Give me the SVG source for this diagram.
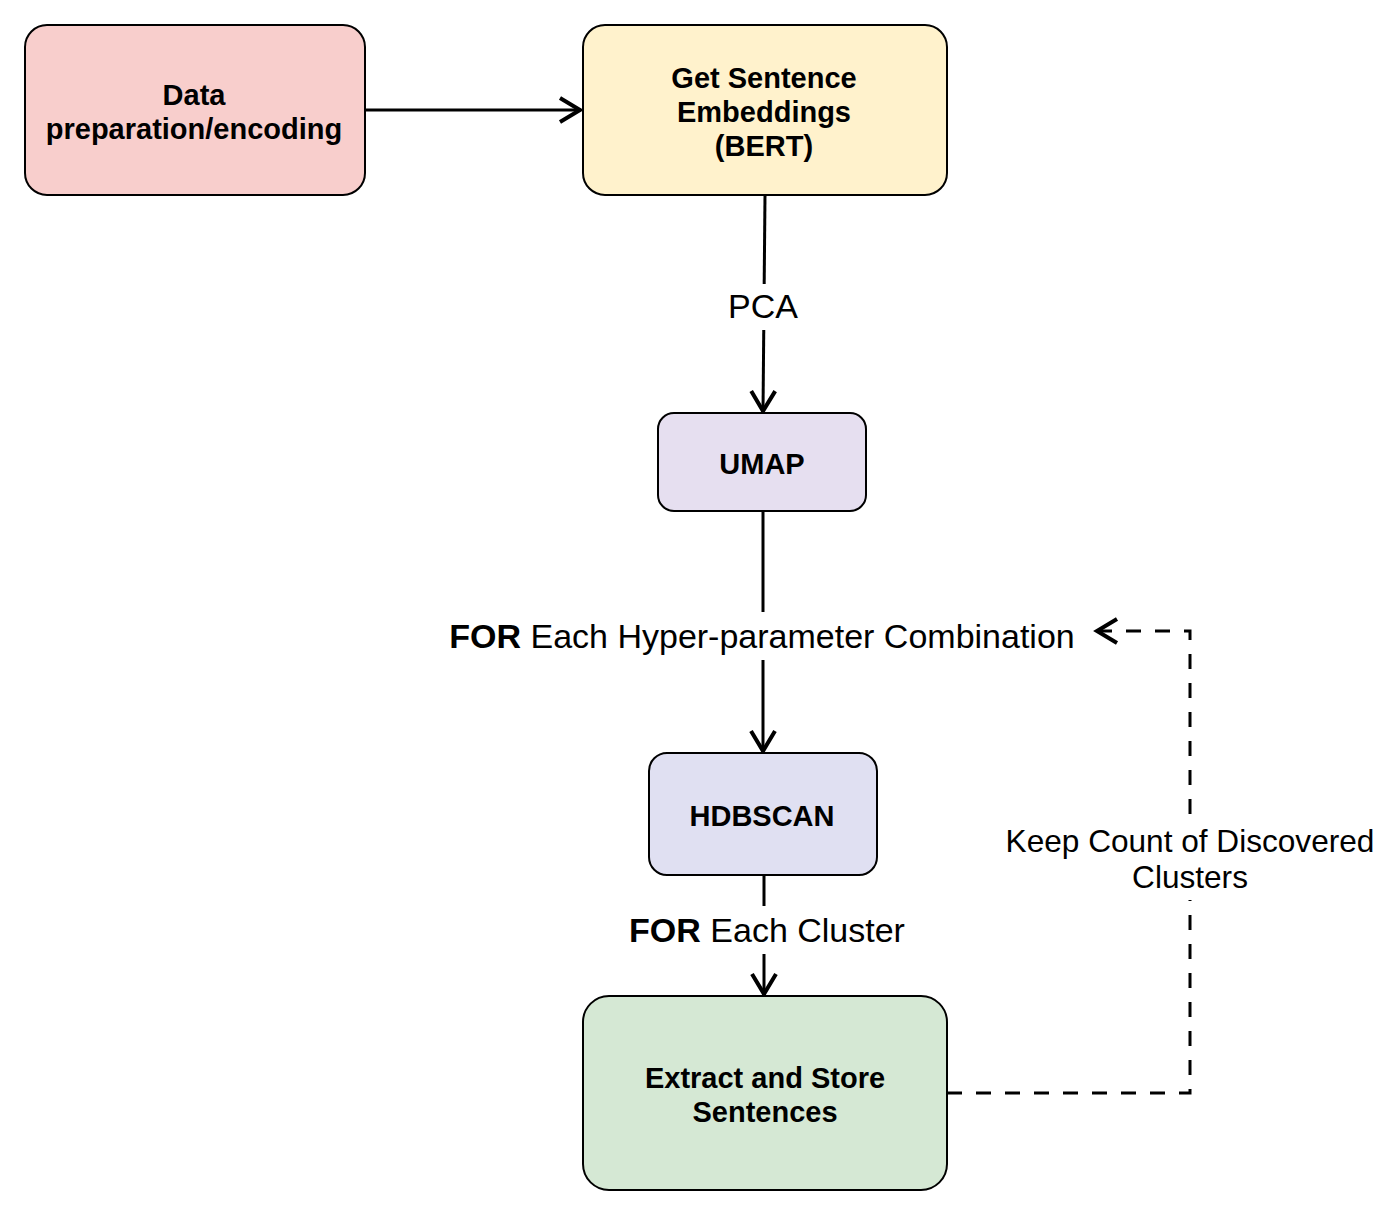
<svg xmlns="http://www.w3.org/2000/svg" width="1400" height="1216" viewBox="0 0 1400 1216">
<style>
.node{stroke:#000;stroke-width:2}
.lbl{font-family:"Liberation Sans",Arial,sans-serif;font-weight:bold;font-size:29px;text-anchor:middle;fill:#000}
.elbl{font-family:"Liberation Sans",Arial,sans-serif;font-size:34px;text-anchor:middle;fill:#000}
.small{font-size:31.6px}
.edge{fill:none;stroke:#000;stroke-width:3}
.dash{stroke-dasharray:15 14}
</style>
<defs>
<marker id="arr2" markerWidth="26" markerHeight="28" refX="23" refY="14" orient="auto" markerUnits="userSpaceOnUse" viewBox="0 0 26 28">
<path d="M2,2 L22,14 L2,26" fill="none" stroke="#000" stroke-width="4"/>
</marker>
</defs>
<rect width="1400" height="1216" fill="#fff"/>
<g id="connectors">
<line class="edge" x1="365" y1="110" x2="581" y2="110" marker-end="url(#arr2)"/>
<line class="edge" x1="765" y1="195" x2="763" y2="412" marker-end="url(#arr2)"/>
<line class="edge" x1="763" y1="511" x2="763" y2="752" marker-end="url(#arr2)"/>
<line class="edge" x1="764" y1="875" x2="764" y2="995" marker-end="url(#arr2)"/>
<polyline class="edge dash" points="947,1093 1190,1093 1190,631 1096,631" marker-end="url(#arr2)"/>
<rect x="712" y="284" width="102" height="46" fill="#fff"/>
<text class="elbl" x="763" y="318">PCA</text>
<rect x="444" y="612" width="638" height="48" fill="#fff"/>
<text class="elbl" x="762" y="648"><tspan font-weight="bold">FOR</tspan> Each Hyper-parameter Combination</text>
<rect x="622" y="906" width="292" height="48" fill="#fff"/>
<text class="elbl" x="767" y="942"><tspan font-weight="bold">FOR</tspan> Each Cluster</text>
<rect x="1000" y="816" width="380" height="84" fill="#fff"/>
<text class="elbl small" x="1190" y="852">Keep Count of Discovered</text>
<text class="elbl small" x="1190" y="888">Clusters</text>
</g>
<g id="data">
<rect class="node" x="25" y="25" width="340" height="170" rx="22" fill="#f8cecc"/>
<text class="lbl" x="194" y="105">Data</text>
<text class="lbl" x="194" y="139">preparation/encoding</text>
</g>
<g id="embeddings">
<rect class="node" x="583" y="25" width="364" height="170" rx="22" fill="#fff2cc"/>
<text class="lbl" x="764" y="88">Get Sentence</text>
<text class="lbl" x="764" y="122">Embeddings</text>
<text class="lbl" x="764" y="156">(BERT)</text>
</g>
<g id="umap">
<rect class="node" x="658" y="413" width="208" height="98" rx="16" fill="#e6dff0"/>
<text class="lbl" x="762" y="474">UMAP</text>
</g>
<g id="hdbscan">
<rect class="node" x="649" y="753" width="228" height="122" rx="18" fill="#e0e0f2"/>
<text class="lbl" x="762" y="826">HDBSCAN</text>
</g>
<g id="extract">
<rect class="node" x="583" y="996" width="364" height="194" rx="26" fill="#d5e8d4"/>
<text class="lbl" x="765" y="1088">Extract and Store</text>
<text class="lbl" x="765" y="1122">Sentences</text>
</g>
</svg>
